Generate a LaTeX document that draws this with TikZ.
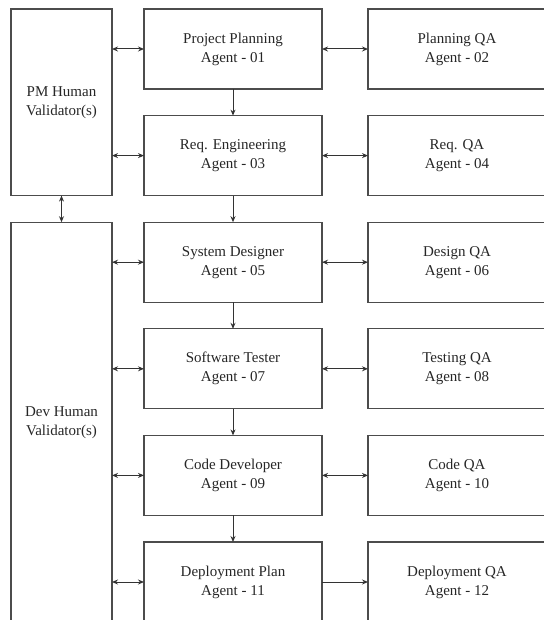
\documentclass[tikz,border=0pt]{standalone}
\usepackage{fontspec}
\setmainfont{Liberation Serif}
\usetikzlibrary{arrows.meta}
\begin{document}
\begin{tikzpicture}[x=1pt,y=-1pt,
    agent/.style={shape=rectangle,draw=black!70,line width=1.3pt,outer sep=0pt,
      minimum width=178pt,minimum height=80pt,align=center,text=black!85,
      font=\fontsize{15}{19}\selectfont},
    human/.style={agent,minimum width=101pt},
    link/.style={draw=black!80,line width=1pt,{Stealth[length=6pt,width=5pt]}-{Stealth[length=6pt,width=5pt]}},
    flow/.style={draw=black!80,line width=1pt,-{Stealth[length=6pt,width=5pt]}}]
    \useasboundingbox (0,0) rectangle (543,620);

    \node[human,minimum height=186.6pt] (pm) at (61.5,102.3) {PM Human\\Validator(s)};
    \node[human,minimum height=400pt] (dev) at (61.5,422.2) {Dev Human\\Validator(s)};

    \node[agent] (a01) at (233,49) {Project Planning\\Agent - 01};
    \node[agent] (a02) at (457,49) {Planning QA\\Agent - 02};
    \node[agent] (a03) at (233,155.6) {Req. Engineering\\Agent - 03};
    \node[agent] (a04) at (457,155.6) {Req. QA\\Agent - 04};
    \node[agent] (a05) at (233,262.2) {System Designer\\Agent - 05};
    \node[agent] (a06) at (457,262.2) {Design QA\\Agent - 06};
    \node[agent] (a07) at (233,368.8) {Software Tester\\Agent - 07};
    \node[agent] (a08) at (457,368.8) {Testing QA\\Agent - 08};
    \node[agent] (a09) at (233,475.4) {Code Developer\\Agent - 09};
    \node[agent] (a10) at (457,475.4) {Code QA\\Agent - 10};
    \node[agent] (a11) at (233,582) {Deployment Plan\\Agent - 11};
    \node[agent] (a12) at (457,582) {Deployment QA\\Agent - 12};

    % validators <-> agents
    \draw[link] (pm.south) -- (dev.north);
    \draw[link] (a01.west -| pm.east) -- (a01.west);
    \draw[link] (a03.west -| pm.east) -- (a03.west);
    \draw[link] (a05.west -| dev.east) -- (a05.west);
    \draw[link] (a07.west -| dev.east) -- (a07.west);
    \draw[link] (a09.west -| dev.east) -- (a09.west);
    \draw[link] (a11.west -| dev.east) -- (a11.west);

    % agents <-> QA
    \draw[link] (a01) -- (a02);
    \draw[link] (a03) -- (a04);
    \draw[link] (a05) -- (a06);
    \draw[link] (a07) -- (a08);
    \draw[link] (a09) -- (a10);
    \draw[flow] (a11) -- (a12);

    % pipeline
    \draw[flow] (a01) -- (a03);
    \draw[flow] (a03) -- (a05);
    \draw[flow] (a05) -- (a07);
    \draw[flow] (a07) -- (a09);
    \draw[flow] (a09) -- (a11);
\end{tikzpicture}
\end{document}
